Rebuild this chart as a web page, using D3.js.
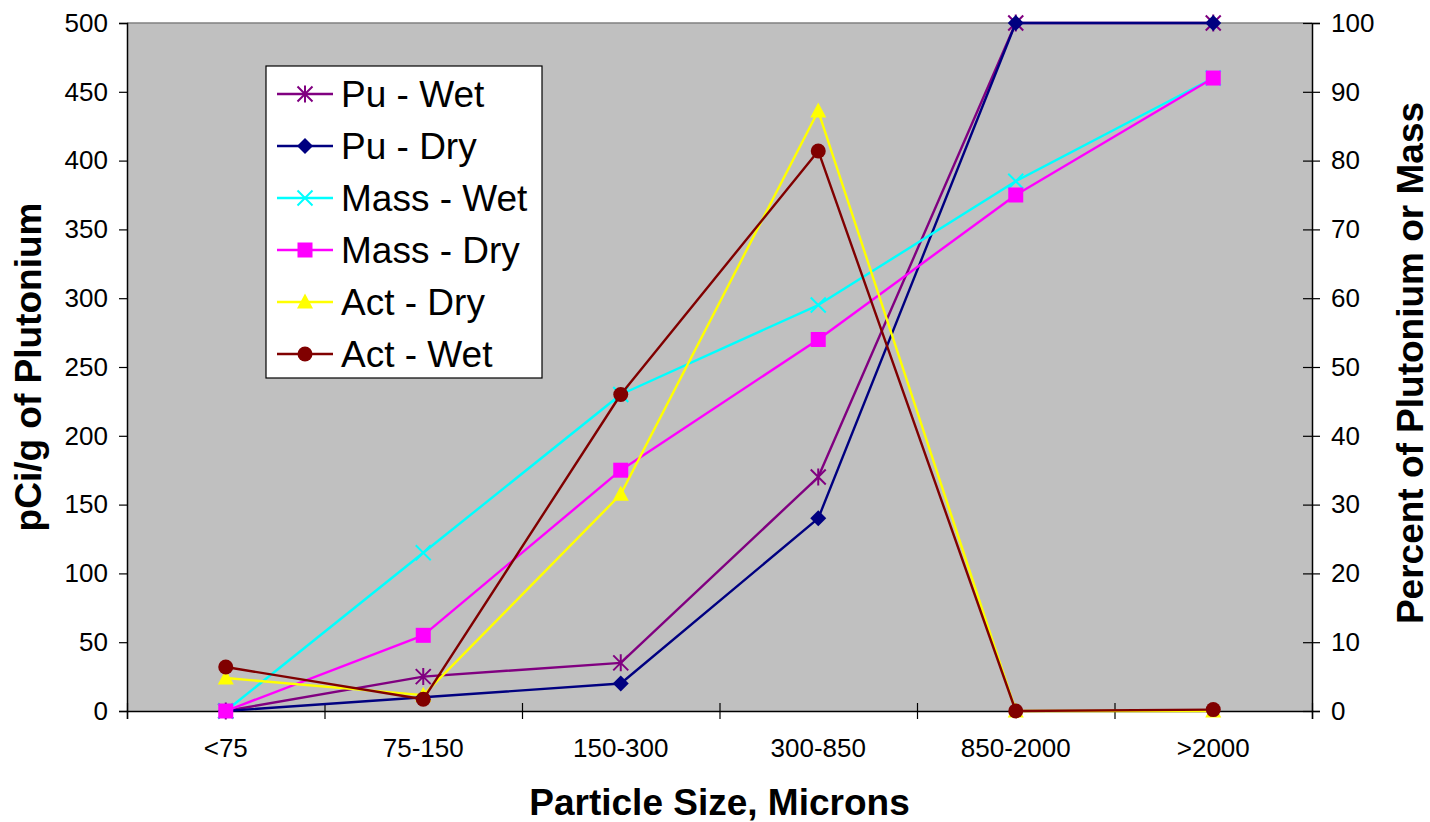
<!DOCTYPE html>
<html>
<head>
<meta charset="utf-8">
<script src="https://cdn.jsdelivr.net/npm/d3@7"></script>
<style>
  body { margin: 0; background: #fff; }
  text { font-family: "Liberation Sans", Arial, sans-serif; }
</style>
</head>
<body>
<svg id="chart" width="1430" height="822"></svg>
<script>
// data
const categories = ["<75", "75-150", "150-300", "300-850", "850-2000", ">2000"];
const puWet = [0, 25, 35, 170, 500, 500];       // pCi/g, left axis
const puDry = [0, 10, 20, 140, 500, 500];       // pCi/g, left axis
const massWet = [0, 23, 46, 59, 77, 92];        // percent, right axis
const massDry = [0, 11, 35, 54, 75, 92];        // percent, right axis
const actDry = [4.8, 2.3, 31.5, 87.2, 0, 0];    // percent, right axis
const actWet = [6.4, 1.7, 46, 81.4, 0, 0.2];    // percent, right axis
const leftTicks = [0, 50, 100, 150, 200, 250, 300, 350, 400, 450, 500];
const rightTicks = [0, 10, 20, 30, 40, 50, 60, 70, 80, 90, 100];

const svg = d3.select("#chart");
const plot = { left: 127, right: 1312, top: 23, bottom: 711 };

const x = d3.scaleBand().domain(categories).range([plot.left, plot.right]).padding(0);
const yL = d3.scaleLinear().domain([0, 500]).range([plot.bottom, plot.top]);
const yR = d3.scaleLinear().domain([0, 100]).range([plot.bottom, plot.top]);

// plot background
svg.append("rect")
  .attr("x", plot.left).attr("y", plot.top)
  .attr("width", plot.right - plot.left).attr("height", plot.bottom - plot.top)
  .attr("fill", "#c0c0c0");
svg.append("line")
  .attr("x1", plot.left).attr("x2", plot.right)
  .attr("y1", plot.top).attr("y2", plot.top)
  .attr("stroke", "#808080").attr("stroke-width", 1.5);

// axes
const fontTick = "26px";

const gL = svg.append("g").attr("transform", `translate(${plot.left},0)`)
  .call(d3.axisLeft(yL).tickValues(leftTicks).tickSize(8).tickPadding(11));
const gR = svg.append("g").attr("transform", `translate(${plot.right},0)`)
  .call(d3.axisRight(yR).tickValues(rightTicks).tickSize(8).tickPadding(11));
gR.selectAll(".tick line").attr("x1", -9);

// band boundary ticks for x
const xIdx = d3.scaleLinear().domain([0, categories.length]).range([plot.left, plot.right]);
const gB = svg.append("g").attr("transform", `translate(0,${plot.bottom})`)
  .call(d3.axisBottom(xIdx).ticks(categories.length).tickFormat("").tickSize(8));
gB.selectAll(".tick line").attr("y1", -8);

const gBL = svg.append("g").attr("transform", `translate(0,${plot.bottom})`)
  .call(d3.axisBottom(x).tickSize(0).tickPadding(28));
gBL.select(".domain").remove();

[gL, gR, gB].forEach(g => {
  g.select(".domain").attr("stroke", "#000").attr("stroke-width", 1.5);
  g.selectAll(".tick line").attr("stroke", "#000").attr("stroke-width", 1.2);
});
[gL, gR, gBL].forEach(g => {
  g.selectAll("text").attr("fill", "#000").style("font-size", fontTick)
    .style("font-family", "'Liberation Sans', Arial, sans-serif");
});

// axis titles
svg.append("text")
  .attr("x", (plot.left + plot.right) / 2).attr("y", 815)
  .attr("text-anchor", "middle")
  .style("font-size", "37px").style("font-weight", "bold")
  .text("Particle Size, Microns");
svg.append("text")
  .attr("transform", `translate(41,${(plot.top + plot.bottom) / 2}) rotate(-90)`)
  .attr("text-anchor", "middle")
  .style("font-size", "37px").style("font-weight", "bold")
  .text("pCi/g of Plutonium");
svg.append("text")
  .attr("transform", `translate(1423,363) rotate(-90)`)
  .attr("text-anchor", "middle")
  .style("font-size", "37px").style("font-weight", "bold")
  .text("Percent of Plutonium or Mass");

// marker shapes (centred at 0,0)
function marker(g, kind, color) {
  const s = 7.5;
  if (kind === "star") {
    g.append("path")
      .attr("d", `M${-s},${-s}L${s},${s}M${-s},${s}L${s},${-s}M0,${-s - 1}L0,${s + 1}`)
      .attr("stroke", color).attr("stroke-width", 2).attr("fill", "none");
  } else if (kind === "times") {
    g.append("path")
      .attr("d", `M${-s},${-s}L${s},${s}M${-s},${s}L${s},${-s}`)
      .attr("stroke", color).attr("stroke-width", 2).attr("fill", "none");
  } else if (kind === "diamond") {
    g.append("path")
      .attr("d", `M0,${-s - 0.5}L${s + 0.5},0L0,${s + 0.5}L${-s - 0.5},0Z`)
      .attr("fill", color);
  } else if (kind === "square") {
    g.append("rect").attr("x", -s).attr("y", -s)
      .attr("width", 2 * s).attr("height", 2 * s).attr("fill", color);
  } else if (kind === "triangle") {
    g.append("path")
      .attr("d", `M0,${-s - 1}L${s + 0.5},${s - 1}L${-s - 0.5},${s - 1}Z`)
      .attr("fill", color);
  } else if (kind === "circle") {
    g.append("circle").attr("r", s).attr("fill", color);
  }
}

const series = [
  { name: "Pu - Wet", values: puWet, y: yL, color: "#800080", mark: "star" },
  { name: "Pu - Dry", values: puDry, y: yL, color: "#000080", mark: "diamond" },
  { name: "Mass - Wet", values: massWet, y: yR, color: "#00ffff", mark: "times" },
  { name: "Mass - Dry", values: massDry, y: yR, color: "#ff00ff", mark: "square" },
  { name: "Act - Dry", values: actDry, y: yR, color: "#ffff00", mark: "triangle" },
  { name: "Act - Wet", values: actWet, y: yR, color: "#800000", mark: "circle" }
];

series.forEach(s => {
  const pts = s.values.map((v, i) => [x(categories[i]) + x.bandwidth() / 2, s.y(v)]);
  svg.append("path")
    .attr("d", d3.line()(pts))
    .attr("fill", "none").attr("stroke", s.color).attr("stroke-width", 2.4)
    .attr("stroke-linejoin", "round");
  pts.forEach(p => {
    marker(svg.append("g").attr("transform", `translate(${p[0]},${p[1]})`), s.mark, s.color);
  });
});

// legend
const leg = svg.append("g");
leg.append("rect")
  .attr("x", 266).attr("y", 66).attr("width", 276).attr("height", 312)
  .attr("fill", "#fff").attr("stroke", "#000").attr("stroke-width", 1.2);
series.forEach((s, i) => {
  const cy = 94 + i * 52;
  leg.append("line")
    .attr("x1", 277).attr("x2", 333).attr("y1", cy).attr("y2", cy)
    .attr("stroke", s.color).attr("stroke-width", 2.4);
  marker(leg.append("g").attr("transform", `translate(305,${cy})`), s.mark, s.color);
  leg.append("text")
    .attr("x", 341).attr("y", cy + 13)
    .style("font-size", "37px")
    .text(s.name);
});
</script>
</body>
</html>
